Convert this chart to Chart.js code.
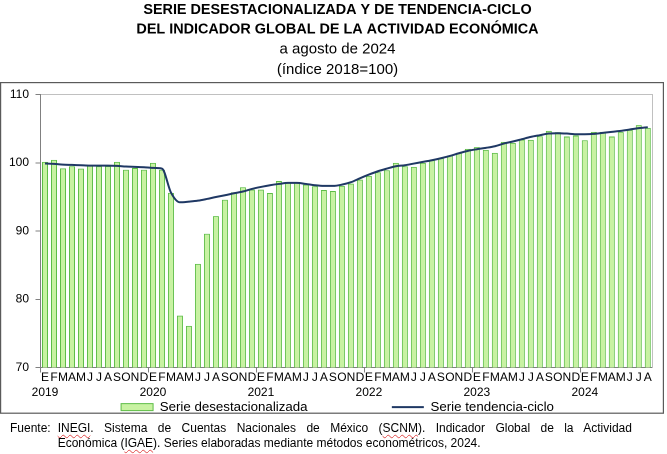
<!DOCTYPE html>
<html>
<head>
<meta charset="utf-8">
<script src="https://cdn.jsdelivr.net/npm/chart.js@4.4.1/dist/chart.umd.min.js"></script>
<style>
html, body { margin: 0; padding: 0; background: #ffffff; }
#wrap { position: relative; width: 667px; height: 454px; overflow: hidden; }
#c { position: absolute; left: 0; top: 0; }
#foot {
  position: absolute; left: 10px; top: 421px; width: 622px;
  font-family: "Liberation Sans", Arial, sans-serif; font-size: 12px; line-height: 14.7px; color: #000;
}
#foot .lab { position: absolute; left: 0; top: 0; }
#foot .body { margin-left: 47.7px; width: 574.3px; }
#foot .l1 { text-align: justify; text-align-last: justify; }
#foot .sp { text-decoration: underline wavy #e04a4a; text-decoration-thickness: 1px; text-underline-offset: 2px; }
</style>
</head>
<body>
<div id="wrap">
  <canvas id="c" width="667" height="454"></canvas>
  <div id="foot">
    <span class="lab">Fuente:</span>
    <div class="body">
      <div class="l1"><span class="sp">INEGI</span>. Sistema de Cuentas Nacionales de México (<span class="sp">SCNM</span>). Indicador Global de la Actividad</div>
      <div>Económica (<span class="sp">IGAE</span>). Series elaboradas mediante métodos econométricos, 2024.</div>
    </div>
  </div>
</div>
<script>
// ---- Data ----
const years = ['2019', '2020', '2021', '2022', '2023', '2024'];
const monthLetters = ['E', 'F', 'M', 'A', 'M', 'J', 'J', 'A', 'S', 'O', 'N', 'D'];
const seriesNames = ['Serie desestacionalizada', 'Serie tendencia-ciclo'];
const titleLines = ['SERIE DESESTACIONALIZADA Y DE TENDENCIA-CICLO', 'DEL INDICADOR GLOBAL DE LA ACTIVIDAD ECONÓMICA'];
const subtitleLines = ['a agosto de 2024', '(índice 2018=100)'];
const yMin = 70, yMax = 110, yStep = 10;

// Serie desestacionalizada (Jan 2019 - Aug 2024)
const seasonallyAdjusted = [
  100.15, 100.44, 99.20, 99.50, 99.16, 99.65, 99.50, 99.55, 100.15, 99.00, 99.25, 99.00,
  100.00, 99.00, 95.60, 77.60, 76.10, 85.20, 89.60, 92.20, 94.60, 95.70, 96.42, 96.08,
  96.08, 95.59, 97.35, 97.16, 97.16, 96.81, 96.57, 96.03, 95.88, 96.62, 96.96, 97.55,
  98.09, 98.62, 98.92, 100.00, 99.50, 99.41, 100.00, 100.39, 100.68, 101.07, 101.46, 102.05,
  102.30, 101.90, 101.46, 103.08, 102.93, 103.42, 103.37, 103.91, 104.69, 104.50, 103.86, 104.01,
  103.32, 104.55, 104.55, 103.86, 104.50, 104.84, 105.53, 105.13
];

// Serie tendencia-ciclo
const trendCycle = [
  99.90, 99.85, 99.75, 99.70, 99.65, 99.60, 99.60, 99.60, 99.56, 99.46, 99.41, 99.36,
  99.26, 99.16, 95.65, 94.22, 94.32, 94.46, 94.71, 95.00, 95.25, 95.54, 95.80, 96.18,
  96.47, 96.72, 96.91, 97.06, 97.06, 96.91, 96.72, 96.62, 96.62, 96.81, 97.16, 97.74,
  98.28, 98.77, 99.16, 99.51, 99.65, 99.90, 100.14, 100.39, 100.68, 101.02, 101.41, 101.76,
  102.00, 102.20, 102.44, 102.83, 103.13, 103.47, 103.81, 104.06, 104.30, 104.35, 104.30, 104.20,
  104.20, 104.25, 104.40, 104.55, 104.69, 104.89, 105.09, 105.23
];

// ---- Category labels: month initial, with the year under January ----
const labels = seasonallyAdjusted.map((v, i) => {
  const m = monthLetters[i % 12];
  return (i % 12 === 0) ? [m, years[i / 12]] : m;
});

const FONT = '"Liberation Sans", Arial, sans-serif';
const BAR_FILL = '#c8f2a2';
const BAR_EDGE = '#5dbd46';
const LINE_COL = '#1f3864';
const AXIS_COL = '#808080';
const FRAME_LIGHT = '#c0c0c0';
const NONE = 'rgba(0,0,0,0)';

const framePlugin = {
  id: 'outerFrame',
  afterDraw(chart) {
    const c = chart.ctx;
    c.save();
    c.strokeStyle = '#5a5a5a';
    c.lineWidth = 1.2;
    c.strokeRect(0.6, 82.6, 662.8, 330.6);
    c.restore();
  }
};

new Chart(document.getElementById('c'), {
  type: 'bar',
  data: {
    labels: labels,
    datasets: [
      {
        type: 'bar',
        label: seriesNames[0],
        data: seasonallyAdjusted,
        backgroundColor: BAR_FILL,
        borderColor: BAR_EDGE,
        borderWidth: 1,
        borderSkipped: false,
        categoryPercentage: 1.0,
        barPercentage: 0.667,
        order: 2
      },
      {
        type: 'line',
        label: seriesNames[1],
        data: trendCycle,
        borderColor: LINE_COL,
        backgroundColor: LINE_COL,
        borderWidth: 2,
        pointRadius: 0,
        pointHoverRadius: 0,
        cubicInterpolationMode: 'monotone',
        fill: false,
        order: 1
      }
    ]
  },
  options: {
    responsive: false,
    animation: false,
    devicePixelRatio: 2,
    layout: { padding: { left: 8, right: 0, top: 0, bottom: 30.2 } },
    plugins: {
      title: {
        display: true,
        text: titleLines,
        color: '#000',
        font: { family: FONT, size: 14.4, weight: 'bold', lineHeight: 1.36 },
        padding: { top: 0, bottom: 0 }
      },
      subtitle: {
        display: true,
        text: subtitleLines,
        color: '#000',
        font: { family: FONT, size: 15, weight: 'normal', lineHeight: 1.353 },
        padding: { top: 0, bottom: 14.9 }
      },
      legend: {
        display: true,
        position: 'bottom',
        labels: {
          color: '#000',
          font: { family: FONT, size: 13.3 },
          usePointStyle: true,
          pointStyleWidth: 32,
          boxHeight: 7,
          padding: 3,
          generateLabels(chart) {
            return chart.data.datasets.map((ds, i) => ({
              text: i === 0 ? ds.label + ' '.repeat(22) : ds.label,
              fillStyle: i === 0 ? ds.backgroundColor : NONE,
              strokeStyle: ds.borderColor,
              lineWidth: ds.borderWidth,
              pointStyle: i === 0 ? 'rect' : 'line',
              fontColor: '#000',
              hidden: false,
              datasetIndex: i
            }));
          }
        }
      },
      tooltip: { enabled: false }
    },
    scales: {
      x: {
        type: 'category',
        offset: true,
        afterFit(s) { s.height = 30; },
        border: { display: true, color: AXIS_COL, width: 1 },
        grid: {
          display: true,
          offset: true,
          drawOnChartArea: false,
          drawTicks: true,
          tickLength: 5,
          color: NONE,
          tickColor: (ctx) => (ctx.type === 'tick' && ctx.index % 12 === 0) ? AXIS_COL : NONE
        },
        ticks: {
          autoSkip: false,
          maxRotation: 0,
          minRotation: 0,
          padding: -2.5,
          color: '#000',
          font: { family: FONT, size: 12, lineHeight: 1.25 }
        }
      },
      y: {
        type: 'linear',
        position: 'left',
        min: yMin,
        max: yMax,
        afterFit(s) { s.width = 32.5; },
        border: { display: true, color: AXIS_COL, width: 1 },
        grid: {
          display: true,
          drawOnChartArea: true,
          drawTicks: true,
          tickLength: 5,
          color: (ctx) => (ctx.tick && ctx.tick.value === yMax) ? FRAME_LIGHT : NONE,
          tickColor: AXIS_COL
        },
        ticks: {
          stepSize: yStep,
          padding: 6.5,
          color: '#000',
          font: { family: FONT, size: 12 }
        }
      },
      yRight: {
        type: 'linear',
        position: 'right',
        display: true,
        afterFit(s) { s.width = 14.7; },
        border: { display: true, color: FRAME_LIGHT, width: 1 },
        grid: { display: false, drawTicks: false },
        ticks: { display: false }
      }
    }
  },
  plugins: [framePlugin]
});
</script>
</body>
</html>
